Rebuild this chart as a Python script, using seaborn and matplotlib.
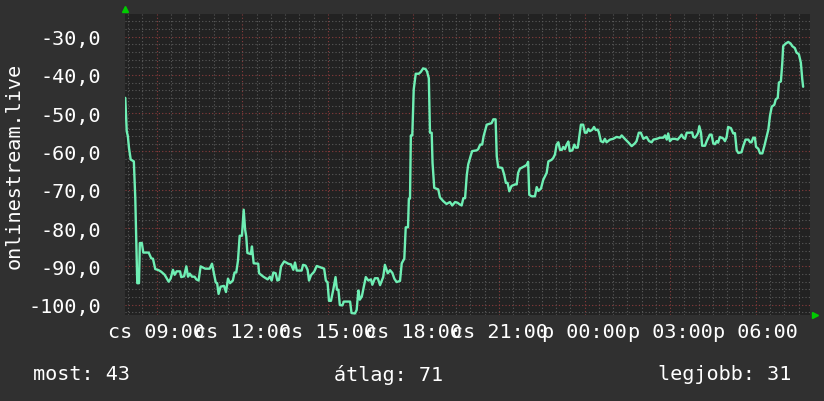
import matplotlib
matplotlib.use("Agg")
import matplotlib.pyplot as plt
import pandas as pd
import seaborn as sns
from matplotlib.ticker import FixedLocator, MultipleLocator

# hours since 00:00 on the first day (cs)
hours = [
    7.90, 7.95, 7.99, 8.03, 8.09, 8.20, 8.25, 8.32, 8.38, 8.41,
    8.48, 8.53, 8.72, 8.81, 8.87, 8.95, 9.07, 9.16, 9.28, 9.42,
    9.49, 9.57, 9.63, 9.70, 9.82, 9.86, 9.96, 10.04, 10.10, 10.16,
    10.24, 10.33, 10.39, 10.47, 10.54, 10.70, 10.86, 10.94, 11.01, 11.07,
    11.12, 11.17, 11.24, 11.36, 11.43, 11.50, 11.57, 11.67, 11.73, 11.79,
    11.85, 11.91, 11.99, 12.05, 12.10, 12.14, 12.18, 12.30, 12.34, 12.40,
    12.56, 12.59, 12.74, 12.89, 12.97, 13.03, 13.09, 13.17, 13.23, 13.29,
    13.36, 13.47, 13.61, 13.71, 13.79, 13.85, 13.91, 14.08, 14.13, 14.22,
    14.29, 14.34, 14.41, 14.52, 14.61, 14.72, 14.87, 14.93, 14.99, 15.04,
    15.11, 15.20, 15.27, 15.32, 15.37, 15.42, 15.51, 15.56, 15.78, 15.83,
    15.95, 16.01, 16.07, 16.12, 16.19, 16.24, 16.33, 16.42, 16.51, 16.56,
    16.65, 16.75, 16.83, 16.94, 17.00, 17.10, 17.18, 17.26, 17.33, 17.41,
    17.53, 17.59, 17.68, 17.73, 17.81, 17.84, 17.88, 17.91, 17.96, 18.01,
    18.08, 18.19, 18.26, 18.34, 18.43, 18.48, 18.54, 18.58, 18.64, 18.67,
    18.73, 18.87, 18.93, 19.05, 19.16, 19.28, 19.36, 19.46, 19.55, 19.60,
    19.69, 19.75, 19.81, 19.87, 19.92, 20.02, 20.06, 20.22, 20.27, 20.34,
    20.41, 20.46, 20.57, 20.74, 20.80, 20.88, 20.92, 20.97, 21.11, 21.18,
    21.24, 21.30, 21.36, 21.44, 21.56, 21.62, 21.67, 21.73, 21.88, 21.97,
    22.02, 22.06, 22.14, 22.26, 22.32, 22.38, 22.47, 22.55, 22.67, 22.73,
    22.84, 22.90, 22.96, 23.02, 23.08, 23.14, 23.20, 23.25, 23.31, 23.37,
    23.43, 23.48, 23.57, 23.64, 23.69, 23.76, 23.80, 23.87, 23.95, 24.01,
    24.07, 24.13, 24.19, 24.27, 24.33, 24.39, 24.46, 24.50, 24.57, 24.65,
    24.71, 24.77, 24.89, 25.00, 25.12, 25.24, 25.30, 25.41, 25.53, 25.65,
    25.76, 25.82, 25.90, 25.97, 26.06, 26.17, 26.26, 26.35, 26.41, 26.53,
    26.64, 26.76, 26.82, 26.88, 26.93, 26.99, 27.07, 27.17, 27.26, 27.34,
    27.40, 27.46, 27.52, 27.58, 27.69, 27.77, 27.81, 27.87, 27.93, 27.98,
    28.02, 28.08, 28.12, 28.22, 28.28, 28.39, 28.45, 28.51, 28.57, 28.63,
    28.68, 28.74, 28.86, 28.92, 28.98, 29.03, 29.13, 29.21, 29.27, 29.33,
    29.39, 29.50, 29.56, 29.64, 29.74, 29.80, 29.85, 29.91, 29.97, 30.01,
    30.09, 30.15, 30.23, 30.30, 30.38, 30.44, 30.50, 30.56, 30.65, 30.70,
    30.77, 30.81, 30.88, 30.93, 30.96, 31.05, 31.14, 31.22, 31.28, 31.37,
    31.43, 31.51, 31.58, 31.63, 31.66,
]

signal = [
    -46.0, -54.7, -56.0, -59.1, -62.1, -62.6, -72.1, -94.4, -94.4, -83.9,
    -83.9, -86.4, -86.4, -87.9, -88.0, -90.7, -91.0, -91.4, -92.2, -94.0,
    -93.2, -90.9, -92.2, -91.3, -91.3, -92.8, -92.6, -90.0, -92.7, -91.9,
    -92.7, -92.7, -93.4, -93.7, -90.0, -90.6, -90.6, -89.3, -91.9, -94.2,
    -94.4, -97.2, -95.3, -95.1, -96.7, -93.2, -94.4, -93.7, -91.6, -91.6,
    -88.5, -82.0, -82.0, -75.2, -80.4, -82.2, -86.5, -86.8, -84.8, -89.2,
    -89.3, -91.8, -92.7, -93.4, -92.7, -93.7, -91.6, -91.8, -93.7, -93.5,
    -90.0, -88.7, -89.3, -89.5, -90.9, -89.0, -91.1, -91.1, -89.6, -89.8,
    -90.9, -93.7, -92.3, -91.4, -89.9, -90.2, -90.6, -93.7, -94.2, -99.0,
    -99.0, -95.7, -92.8, -96.1, -96.1, -100.1, -100.2, -99.2, -99.2, -102.2,
    -102.3, -101.4, -96.3, -98.7, -97.9, -96.1, -92.8, -93.7, -93.4, -94.8,
    -93.1, -93.1, -94.9, -92.8, -89.6, -91.8, -91.0, -91.7, -93.2, -94.1,
    -93.8, -89.2, -88.0, -79.8, -79.8, -72.3, -72.3, -55.8, -55.8, -43.8,
    -39.7, -39.7, -39.2, -38.3, -38.5, -39.2, -40.9, -55.1, -55.1, -63.0,
    -69.5, -69.9, -72.0, -73.0, -73.7, -73.2, -74.1, -73.2, -73.4, -73.7,
    -74.1, -72.2, -72.2, -66.2, -63.4, -60.8, -59.9, -59.7, -59.4, -58.2,
    -58.2, -56.0, -53.0, -52.6, -51.6, -51.6, -61.2, -64.1, -64.3, -66.0,
    -68.2, -68.2, -70.4, -69.0, -68.6, -68.6, -65.6, -64.5, -63.9, -63.5,
    -62.7, -71.3, -71.7, -71.7, -69.3, -70.3, -69.7, -67.4, -65.6, -62.6,
    -62.2, -61.7, -60.8, -58.2, -57.6, -59.6, -59.6, -58.8, -59.4, -58.2,
    -57.4, -59.9, -59.7, -58.2, -59.0, -59.0, -56.9, -53.0, -53.0, -55.1,
    -55.1, -54.1, -54.7, -54.3, -53.6, -54.4, -54.3, -55.0, -57.3, -57.6,
    -56.7, -57.6, -56.9, -56.7, -56.2, -56.4, -55.8, -56.7, -57.6, -58.6,
    -57.9, -57.3, -55.1, -55.1, -56.7, -56.2, -57.3, -57.6, -56.9, -56.7,
    -56.4, -56.4, -55.8, -56.9, -55.3, -57.3, -56.7, -56.7, -56.9, -56.2,
    -55.6, -56.4, -56.7, -55.1, -55.1, -55.0, -56.2, -56.4, -55.8, -55.1,
    -53.4, -55.1, -58.5, -58.5, -57.3, -55.6, -55.6, -57.9, -58.1, -57.3,
    -57.7, -56.2, -56.6, -57.3, -56.2, -53.6, -53.9, -55.3, -55.2, -59.7,
    -60.4, -60.2, -58.6, -56.9, -56.9, -57.6, -57.6, -56.4, -56.4, -58.8,
    -59.3, -60.5, -60.5, -58.6, -56.2, -54.3, -50.6, -48.3, -47.8, -46.4,
    -46.0, -42.0, -41.7, -36.8, -32.5, -31.8, -31.4, -31.8, -32.5, -33.0,
    -34.2, -34.6, -36.8, -41.2, -43.1,
]

x_ticks = [9, 12, 15, 18, 21, 24, 27, 30]
x_labels = ["cs 09:00", "cs 12:00", "cs 15:00", "cs 18:00", "cs 21:00",
            "p 00:00", "p 03:00", "p 06:00"]
y_ticks = [-100, -90, -80, -70, -60, -50, -40, -30]
y_labels = [f"{v:.1f}".replace(".", ",") for v in y_ticks]
series_name = "onlinestream.live"
footer = ["most: 43", "átlag: 71", "legjobb: 31"]

FIG_BG = "#303030"
PLOT_BG = "#222222"
LINE = "#6fefb4"
TEXT = "#ffffff"

sns.set_style("dark")
plt.rcParams["font.family"] = ["DejaVu Sans Mono"]
plt.rcParams["font.size"] = 14.5

df = pd.DataFrame({"hour": hours, "value": signal})

fig = plt.figure(figsize=(8.24, 4.02), dpi=100, facecolor=FIG_BG)
ax = fig.add_axes([125 / 824, 86 / 402, 684.7 / 824, 301 / 402])
ax.set_facecolor(PLOT_BG)

sns.lineplot(data=df, x="hour", y="value", estimator=None, color=LINE,
             linewidth=1.7, ax=ax, zorder=3)

ax.set_xlim(7.89, 31.89)
ax.set_ylim(-102.7, -24.1)

ax.xaxis.set_major_locator(FixedLocator(x_ticks))
ax.set_xticklabels(x_labels)
ax.xaxis.set_minor_locator(MultipleLocator(0.5))
ax.yaxis.set_major_locator(FixedLocator(y_ticks))
ax.set_yticklabels(y_labels)
ax.yaxis.set_minor_locator(MultipleLocator(2))

ax.grid(which="minor", color="#5a5a5a", linestyle=(0, (1, 2)), linewidth=0.8, zorder=1)
ax.grid(which="major", color="#8a3c3c", linestyle=(0, (1, 2)), linewidth=0.8, zorder=2)

ax.tick_params(axis="both", which="both", length=0, colors=TEXT)
ax.tick_params(axis="x", pad=5)
ax.tick_params(axis="y", pad=17)
for s in ax.spines.values():
    s.set_visible(False)

ax.set_xlabel("")
ax.set_ylabel(series_name, color=TEXT)
ax.yaxis.set_label_coords(-0.148, 0.5)

# little green arrows at the axis ends
ax.plot([0], [1.017], marker="^", color="#00cc00", markersize=5,
        transform=ax.transAxes, clip_on=False)
ax.plot([1.008], [0], marker=">", color="#00cc00", markersize=5,
        transform=ax.transAxes, clip_on=False)

fig.text(33 / 824, 1 - 375 / 402, footer[0], color=TEXT, va="center", ha="left")
fig.text(334 / 824, 1 - 375 / 402, footer[1], color=TEXT, va="center", ha="left")
fig.text(791 / 824, 1 - 375 / 402, footer[2], color=TEXT, va="center", ha="right")

fig.savefig("out.png", dpi=100, facecolor=FIG_BG)
